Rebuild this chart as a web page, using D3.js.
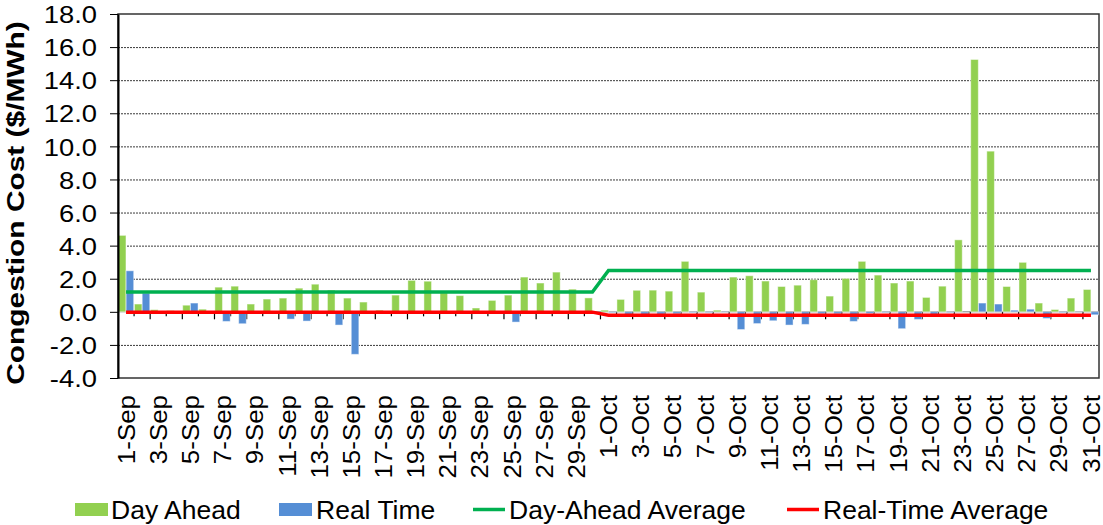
<!DOCTYPE html>
<html>
<head>
<meta charset="utf-8">
<script src="https://cdn.jsdelivr.net/npm/d3@7"></script>
<style>
  html, body { margin: 0; padding: 0; background: #fff; }
  svg { display: block; font-family: "Liberation Sans", Arial, sans-serif; }
</style>
</head>
<body>
<svg id="chart" width="1103" height="525"></svg>
<script>
// ---- Data ----
const sepDays = d3.range(1, 31).map(d => d + "-Sep");
const octDays = d3.range(1, 32).map(d => d + "-Oct");
const categories = sepDays.concat(octDays);

const dayAhead = [
  4.62, 0.47, 0.13, 0.08, 0.40, 0.16, 1.49, 1.55, 0.47, 0.77,
  0.83, 1.43, 1.67, 1.31, 0.83, 0.59, 0.10, 1.01, 1.90, 1.85,
  1.15, 0.98, 0.23, 0.69, 1.01, 2.10, 1.74, 2.40, 1.37, 0.84,
  0.10, 0.75, 1.30, 1.31, 1.25, 3.05, 1.19, 0.10, 2.10, 2.18,
  1.86, 1.53, 1.61, 1.94, 0.95, 2.02, 3.05, 2.22, 1.74, 1.86,
  0.87, 1.55, 4.35, 15.25, 9.71, 1.53, 2.99, 0.53, 0.14, 0.83,
  1.35
];
const realTime = [
  2.48, 1.13, 0.05, 0.02, 0.53, 0.00, -0.58, -0.72, 0.05, 0.00,
  -0.44, -0.56, 0.00, -0.80, -2.57, 0.00, 0.00, 0.00, 0.05, -0.05,
  -0.05, -0.05, -0.05, 0.03, -0.62, 0.00, 0.00, 0.00, 0.00, 0.00,
  -0.05, -0.15, -0.15, -0.15, -0.12, -0.05, -0.05, -0.02, -1.07, -0.71,
  -0.54, -0.80, -0.76, -0.12, -0.12, -0.58, -0.10, -0.05, -1.02, -0.46,
  -0.15, -0.05, 0.00, 0.53, 0.47, 0.10, 0.16, -0.40, -0.05, -0.02,
  -0.18
];
// Monthly averages (flat per month)
const monthOf = categories.map(c => c.split("-")[1]);
const dayAheadAvgByMonth = { Sep: 1.2, Oct: 2.5 };
const realTimeAvgByMonth = { Sep: -0.02, Oct: -0.2 };
const dayAheadAvg = monthOf.map(m => dayAheadAvgByMonth[m]);
const realTimeAvg = monthOf.map(m => realTimeAvgByMonth[m]);

const yTicks = d3.range(-4, 18.01, 2);
const labelCats = categories.filter((c, i) => i % 2 === 0);

const seriesNames = ["Day Ahead", "Real Time", "Day-Ahead Average", "Real-Time Average"];
const colors = { da: "#92D050", rt: "#558ED5", daAvg: "#00B050", rtAvg: "#FF0000" };

// ---- Layout ----
const svg = d3.select("#chart");
const pLeft = 118, pRight = 1099, pTop = 14, pBottom = 378;

const x = d3.scaleBand().domain(categories).range([pLeft, pRight]).padding(0);
const xSub = d3.scaleBand().domain(["da", "rt"]).range([0, x.bandwidth()]).paddingOuter(0.05).paddingInner(0.02);
const y = d3.scaleLinear().domain([-4, 18]).range([pBottom, pTop]);

// gridlines (dotted)
svg.append("g").selectAll("line")
  .data(yTicks.filter(v => v !== 0 && v !== -4 && v !== 18))
  .join("line")
  .attr("x1", pLeft).attr("x2", pRight)
  .attr("y1", d => y(d) + 0.5).attr("y2", d => y(d) + 0.5)
  .attr("stroke", "#3a3a3a").attr("stroke-width", 1)
  .attr("stroke-dasharray", "2,1");

// plot border
svg.append("rect")
  .attr("x", pLeft).attr("y", pTop)
  .attr("width", pRight - pLeft).attr("height", pBottom - pTop)
  .attr("fill", "none").attr("stroke", "#333").attr("stroke-width", 1.5);

// zero axis line
svg.append("line")
  .attr("x1", pLeft).attr("x2", pRight)
  .attr("y1", y(0)).attr("y2", y(0))
  .attr("stroke", "#7f7f7f").attr("stroke-width", 1);

// x ticks at category boundaries
const boundaries = categories.slice(1);
svg.append("g").selectAll("line")
  .data(boundaries)
  .join("line")
  .attr("x1", d => x(d)).attr("x2", d => x(d))
  .attr("y1", y(0))
  .attr("y2", (d, i) => y(0) + (i % 2 === 1 ? 7.5 : 4.5))
  .attr("stroke", "#000").attr("stroke-width", 1.2);

// bars
const groups = svg.append("g").selectAll("g")
  .data(categories)
  .join("g")
  .attr("transform", d => `translate(${x(d)},0)`);

groups.append("rect")
  .attr("x", xSub("da"))
  .attr("width", xSub.bandwidth())
  .attr("y", (d, i) => y(Math.max(0, dayAhead[i])))
  .attr("height", (d, i) => Math.abs(y(dayAhead[i]) - y(0)))
  .attr("fill", colors.da)
  .attr("stroke", "rgba(255,255,255,0.45)").attr("stroke-width", 1);

groups.append("rect")
  .attr("x", xSub("rt"))
  .attr("width", xSub.bandwidth())
  .attr("y", (d, i) => y(Math.max(0, realTime[i])))
  .attr("height", (d, i) => Math.abs(y(realTime[i]) - y(0)))
  .attr("fill", colors.rt)
  .attr("stroke", "rgba(255,255,255,0.45)").attr("stroke-width", 1);

// average lines
const line = d3.line()
  .x((d, i) => x(categories[i]) + x.bandwidth() / 2)
  .y(d => y(d));

svg.append("path").datum(dayAheadAvg)
  .attr("d", line).attr("fill", "none")
  .attr("stroke", colors.daAvg).attr("stroke-width", 3.5);
svg.append("path").datum(realTimeAvg)
  .attr("d", line).attr("fill", "none")
  .attr("stroke", colors.rtAvg).attr("stroke-width", 3.5);

// y axis
const yAxis = svg.append("g")
  .attr("transform", `translate(${pLeft},0)`)
  .call(d3.axisLeft(y).tickValues(yTicks).tickSize(8).tickSizeOuter(0)
    .tickFormat(d => d.toFixed(1)));
yAxis.select(".domain").attr("stroke", "#000").attr("stroke-width", 2);
yAxis.selectAll(".tick line").attr("stroke", "#000").attr("stroke-width", 1);
yAxis.selectAll(".tick text")
  .attr("x", null).attr("dy", "0.36em")
  .attr("transform", "translate(-21,0) scale(1.14,1)")
  .attr("text-anchor", "end")
  .attr("fill", "#000")
  .style("font-size", "24px")
  .style("font-family", "'Liberation Sans', Arial, sans-serif");

// x labels
svg.append("g").selectAll("text")
  .data(labelCats)
  .join("text")
  .attr("transform", d => `translate(${x(d) + x.bandwidth() / 2},395) rotate(-90) scale(1.08,1)`)
  .attr("dy", "0.36em")
  .attr("text-anchor", "end")
  .style("font-size", "24px")
  .attr("fill", "#000")
  .text(d => d);

// y title
svg.append("text")
  .attr("transform", "translate(24,203) rotate(-90) scale(1.3,1)")
  .attr("text-anchor", "middle")
  .style("font-size", "23px")
  .style("font-weight", "bold")
  .attr("fill", "#000")
  .text("Congestion Cost ($/MWh)");

// legend
const lg = svg.append("g").style("font-size", "26.5px");
const legendItems = [
  { name: seriesNames[0], type: "rect", color: colors.da, sx: 75, tx: 111 },
  { name: seriesNames[1], type: "rect", color: colors.rt, sx: 279, tx: 316 },
  { name: seriesNames[2], type: "line", color: colors.daAvg, sx: 473, tx: 509 },
  { name: seriesNames[3], type: "line", color: colors.rtAvg, sx: 787, tx: 823 }
];
const ly = 509.5;
legendItems.forEach(it => {
  if (it.type === "rect") {
    lg.append("rect").attr("x", it.sx).attr("y", ly - 6.5)
      .attr("width", 33).attr("height", 13).attr("fill", it.color);
  } else {
    lg.append("line").attr("x1", it.sx).attr("x2", it.sx + 32)
      .attr("y1", ly).attr("y2", ly)
      .attr("stroke", it.color).attr("stroke-width", 3.5);
  }
  lg.append("text").attr("x", it.tx).attr("y", ly + 9.5)
    .attr("fill", "#000").text(it.name);
});
</script>
</body>
</html>
